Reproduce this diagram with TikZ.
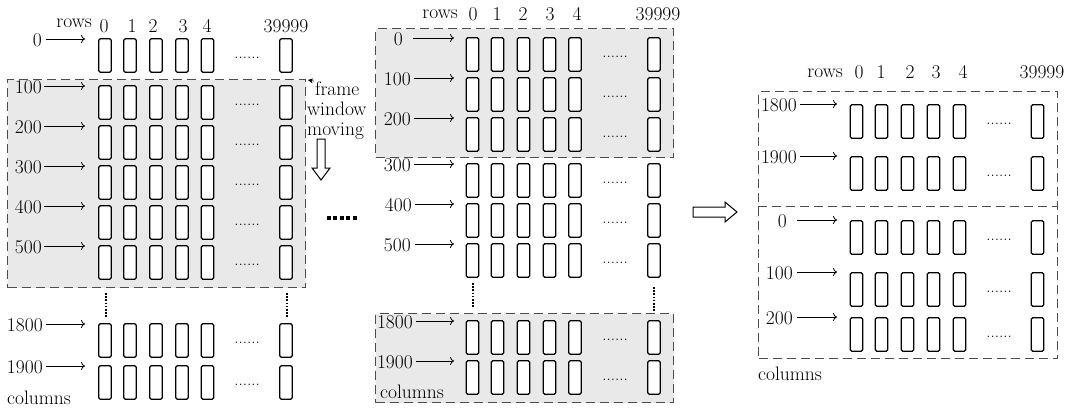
\documentclass[tikz,border=0pt]{standalone}
\usetikzlibrary{arrows.meta}
\begin{document}
\begin{tikzpicture}[x=1pt,y=-1pt,
  cell/.style={draw, line width=1.3pt, rounded corners=1.5pt, fill=white, minimum width=12.5pt, minimum height=33.5pt, inner sep=0pt},
  lab/.style={font=\fontsize{19.5}{22}\selectfont, inner sep=0pt},
  dotsl/.style={font=\fontsize{17}{19}\selectfont, inner sep=0pt, anchor=base},
  rowarrow/.style={-{To[length=4pt,width=8pt]}, line width=0.8pt},
  win/.style={draw=black!70, dash pattern=on 9pt off 5pt, line width=1pt, inner sep=0pt},
  shade/.style={win, fill=gray!17},
  vdots/.style={line width=1.6pt, dash pattern=on 1.6pt off 1.6pt},
  hollow/.style={draw, line width=1pt, fill=white}]
\useasboundingbox (0,0) rectangle (1076,407);

% ---------- windows ----------
\node[shade, anchor=north west, minimum width=298pt, minimum height=208pt] (winA) at (7,79) {};
\node[shade, anchor=north west, minimum width=298pt, minimum height=129pt] (winB) at (375,28) {};
\node[shade, anchor=north west, minimum width=298pt, minimum height=89pt] (winC) at (375,313) {};
\node[win, anchor=north west, minimum width=299pt, minimum height=267pt] (winR) at (758,91) {};
\coordinate (divL) at (758,206);
\coordinate (divR) at (1057,206);
\draw[win] (divL) -- (divR);

% ---------- left panel ----------
\foreach \x/\t [count=\c] in {104/0,132/1,153/2,183/3,207/4,286/39999}
  \node[lab, anchor=base] (Ah-\c) at (\x,32) {\t};
\node[lab, anchor=base east] (Arows) at (92,27) {rows};
\foreach \t/\l/\lx/\ax [count=\r] in {38/0/42/46, 85/100/42/44, 125/200/42/44, 165/300/42/44, 205/400/42/44, 245/500/42/44, 323/1800/43/46, 365/1900/43/46} {
  \foreach \o [count=\c] in {0,25,51,77,102.5,181}
    \node[cell] (A-\r-\c) at (105+\o,\t+17.5) {};
  \node[dotsl] (Ad-\r) at (247,\t+20) {......};
  \node[lab, anchor=east] (Al-\r) at (\lx,\t+2) {\l};
  \coordinate (Ae-\r) at (85,\t+1);
  \pgfmathsetmacro{\gap}{\ax-\lx}
  \draw[rowarrow, shorten <=\gap pt] (Al-\r.east |- Ae-\r) -- (Ae-\r);
}
\node[lab, anchor=base west] (Acol) at (7,404) {columns};
\draw[vdots] (106,293) -- (106,318);
\draw[vdots] (287,293) -- (287,318);
\node[lab, anchor=base west] (fr1) at (315,95) {frame};
\node[lab, anchor=base west] (fr2) at (307,115) {window};
\node[lab, anchor=base west] (fr3) at (307,135) {moving};
\draw[-{Stealth[length=5pt,width=5pt]}, line width=0.6pt] ([xshift=-1pt]fr1.north west) -- ([xshift=2pt,yshift=-1pt]winA.north east);
\draw[hollow] (317,139) -- (325,139) -- (325,168) -- (330,168) -- (321,180) -- (312,168) -- (317,168) -- cycle;

% ---------- bold ellipsis ----------
\draw[line width=4pt, dash pattern=on 4pt off 2.4pt] (327,218) -- (358,218);

% ---------- middle panel ----------
\foreach \x/\t [count=\c] in {473/0,497/1,523/2,550/3,577/4,658/39999}
  \node[lab, anchor=base] (Bh-\c) at (\x,20) {\t};
\node[lab, anchor=base east] (Brows) at (458,18) {rows};
\foreach \t/\l/\lx/\ax [count=\r] in {37/0/403/413, 77/100/411/414, 117/200/411/414, 163/300/411/414, 203/400/412/415, 243/500/411/415, 320/1800/413/416, 360/1900/413/416} {
  \foreach \o [count=\c] in {0,25,51,77,102.5,181.5}
    \node[cell] (B-\r-\c) at (472.5+\o,\t+17.5) {};
  \node[dotsl] (Bd-\r) at (615,\t+20) {......};
  \node[lab, anchor=east] (Bl-\r) at (\lx,\t+2) {\l};
  \coordinate (Be-\r) at (454,\t+1);
  \pgfmathsetmacro{\gap}{\ax-\lx}
  \draw[rowarrow, shorten <=\gap pt] (Bl-\r.east |- Be-\r) -- (Be-\r);
}
\node[lab, anchor=base west] (Bcol) at (380,398) {columns};
\draw[vdots] (473,283) -- (473,308);
\draw[vdots] (654,287) -- (654,312);

% ---------- hollow right arrow ----------
\draw[hollow] (693,207) -- (725,207) -- (725,202) -- (737,212) -- (725,222) -- (725,217) -- (693,217) -- cycle;

% ---------- right panel ----------
\foreach \x/\t [count=\c] in {859/0,881/1,910/2,936/3,963/4,1042/39999}
  \node[lab, anchor=base] (Ch-\c) at (\x,78) {\t};
\node[lab, anchor=base east] (Crows) at (843,77) {rows};
\foreach \t/\l/\lx/\ax [count=\r] in {104/1800/797/800, 156/1900/797/800, 220/0/787/797, 272/100/793/797, 317/200/793/797} {
  \foreach \o [count=\c] in {0,25,51,77,103,181}
    \node[cell] (C-\r-\c) at (856.5+\o,\t+17.5) {};
  \node[dotsl] (Cd-\r) at (999,\t+20) {......};
  \node[lab, anchor=east] (Cl-\r) at (\lx,\t+1) {\l};
  \coordinate (Ce-\r) at (837,\t);
  \pgfmathsetmacro{\gap}{\ax-\lx}
  \draw[rowarrow, shorten <=\gap pt] (Cl-\r.east |- Ce-\r) -- (Ce-\r);
}
\node[lab, anchor=base west] (Ccol) at (758,380) {columns};
\end{tikzpicture}
\end{document}
